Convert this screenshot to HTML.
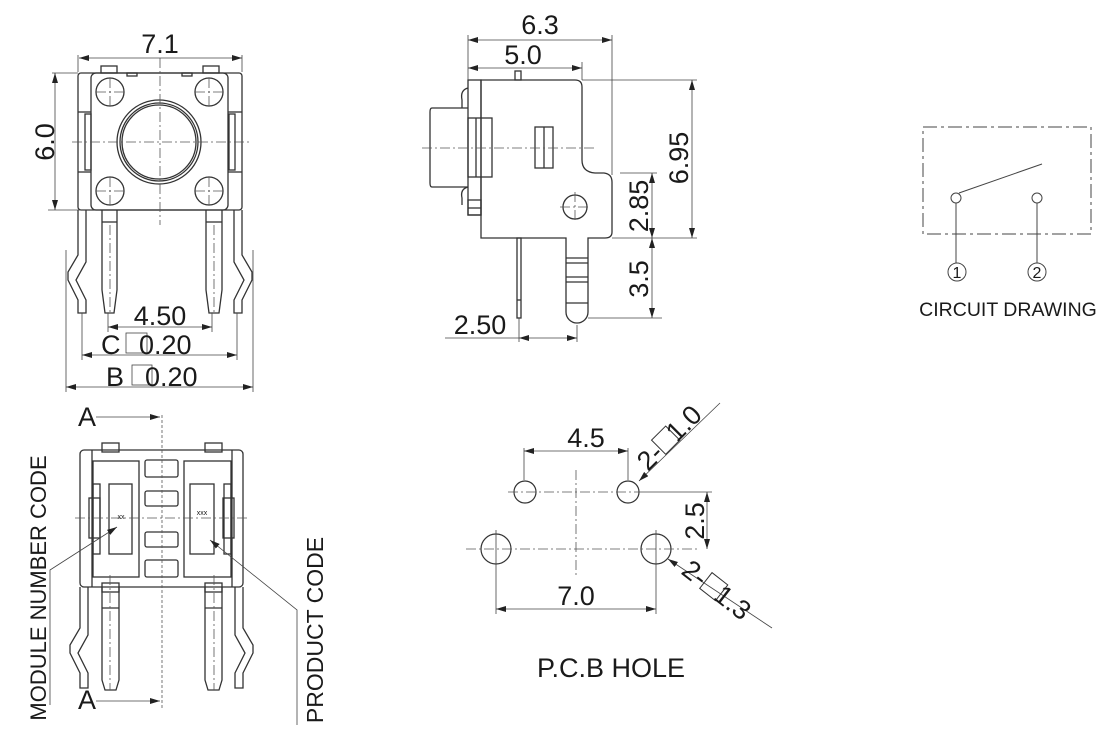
<!DOCTYPE html>
<html><head><meta charset="utf-8"><style>
html,body{margin:0;padding:0;background:#fff;}
svg{display:block;}
text{font-family:"Liberation Sans",Arial,sans-serif;fill:#1a1a1a;}
</style></head><body>
<svg width="1120" height="745" viewBox="0 0 1120 745" xmlns="http://www.w3.org/2000/svg">
<defs>
<marker id="ar" viewBox="0 0 10 6" refX="10" refY="3" markerWidth="10" markerHeight="6" markerUnits="userSpaceOnUse" orient="auto-start-reverse"><path d="M0,0 L10,3 L0,6 z" fill="#222"/></marker>
</defs>
<g fill="none" stroke="#333" stroke-width="1.3">
<rect x="78" y="73" width="164" height="137" rx="3"/>
<rect x="91" y="73" width="137" height="137" rx="5"/>
<rect x="101" y="66" width="16" height="7"/><rect x="203" y="66" width="16" height="7"/>
<rect x="127" y="73" width="10" height="3"/><rect x="182" y="73" width="10" height="3"/>
<line x1="78" y1="112" x2="91" y2="112"/><line x1="78" y1="172" x2="91" y2="172"/>
<line x1="228" y1="112" x2="242" y2="112"/><line x1="228" y1="172" x2="242" y2="172"/>
<rect x="85" y="114" width="6" height="56"/><rect x="229" y="114" width="6" height="56"/>
<circle cx="110" cy="92" r="14"/><circle cx="209" cy="92" r="14"/>
<circle cx="110" cy="191" r="14"/><circle cx="209" cy="191" r="14"/>
<circle cx="159" cy="142" r="42"/><circle cx="159" cy="142" r="39"/><circle cx="159" cy="142" r="37"/>
<path d="M102,210 V290 L105,313 H114 L117,290 V210"/>
<path d="M206,210 V290 L209,313 H219 L222,290 V210"/>
<line x1="102" y1="222" x2="117" y2="222"/><line x1="206" y1="222" x2="222" y2="222"/>
<path d="M78,210 V255 L68,272 V280 L78,300 V313 H86 V300 L76,280 L86,262 V210"/>
<path d="M242,210 V255 L252,272 V280 L242,300 V313 H234 V300 L244,280 L234,262 V210"/>
</g>
<g stroke="#555" stroke-width="0.8" fill="none" stroke-dasharray="10,3,2,3">
<line x1="160" y1="58" x2="160" y2="225"/><line x1="72" y1="142" x2="250" y2="142"/>
<line x1="110" y1="78" x2="110" y2="106"/><line x1="96" y1="92" x2="124" y2="92"/>
<line x1="209" y1="78" x2="209" y2="106"/><line x1="195" y1="92" x2="223" y2="92"/>
<line x1="110" y1="177" x2="110" y2="205"/><line x1="96" y1="191" x2="124" y2="191"/>
<line x1="209" y1="177" x2="209" y2="205"/><line x1="195" y1="191" x2="223" y2="191"/>
<line x1="110" y1="225" x2="110" y2="313"/><line x1="214" y1="225" x2="214" y2="313"/>
</g>
<g stroke="#444" stroke-width="0.8" fill="none">
<line x1="78" y1="72" x2="78" y2="55"/><line x1="242" y1="72" x2="242" y2="55"/>
<line x1="79" y1="58" x2="242" y2="58" marker-start="url(#ar)" marker-end="url(#ar)"/>
<line x1="52" y1="73" x2="78" y2="73"/><line x1="48" y1="210" x2="100" y2="210"/>
<line x1="55" y1="73" x2="55" y2="210" marker-start="url(#ar)" marker-end="url(#ar)"/>
<line x1="108" y1="313" x2="108" y2="332"/><line x1="212" y1="313" x2="212" y2="332"/>
<line x1="108" y1="327" x2="212" y2="327" marker-start="url(#ar)" marker-end="url(#ar)"/>
<line x1="82" y1="313" x2="82" y2="360"/><line x1="237" y1="313" x2="237" y2="360"/>
<line x1="82" y1="355" x2="237" y2="355" marker-start="url(#ar)" marker-end="url(#ar)"/>
<line x1="66" y1="250" x2="66" y2="392"/><line x1="253" y1="250" x2="253" y2="392"/>
<line x1="66" y1="387" x2="253" y2="387" marker-start="url(#ar)" marker-end="url(#ar)"/>
<rect x="126" y="333" width="21" height="20"/><rect x="132" y="365" width="20" height="20"/>
</g>
<text x="160" y="53" font-size="27" text-anchor="middle">7.1</text>
<text transform="translate(54,142) rotate(-90)" font-size="27" text-anchor="middle">6.0</text>
<text x="160" y="325" font-size="27" text-anchor="middle">4.50</text>
<text x="101" y="354" font-size="27">C</text><text x="139" y="354" font-size="27">0.20</text>
<text x="106" y="386" font-size="27">B</text><text x="145" y="386" font-size="27">0.20</text>

<g fill="none" stroke="#333" stroke-width="1.3">
<path d="M481,80 H575 Q582,80 582,87 V160 Q582,172 595,173 H604 Q612,174 612,182 V232 Q612,238 605,238 H588 V312 A11,11 0 0 1 566,312 V238 H481 Z"/>
<rect x="468" y="80" width="13" height="135"/>
<path d="M468,108 H432 Q430,108 430,112 V183 Q430,187 432,187 H468"/>
<rect x="468" y="118" width="24" height="59"/><line x1="476" y1="118" x2="476" y2="177"/>
<path d="M468,88 Q460,90 462,100 V108"/><path d="M468,187 Q460,189 462,198 V205"/>
<rect x="468" y="200" width="13" height="15"/><line x1="468" y1="208" x2="481" y2="208"/>
<rect x="515" y="71" width="6" height="9"/>
<rect x="535" y="127" width="18" height="41"/><line x1="544" y1="127" x2="544" y2="168"/>
<circle cx="575" cy="207" r="12"/>
<rect x="517" y="238" width="4" height="80"/>
<line x1="566" y1="258" x2="588" y2="258"/><line x1="566" y1="263" x2="588" y2="263"/>
<line x1="566" y1="277" x2="588" y2="277"/><line x1="566" y1="282" x2="588" y2="282"/>
<line x1="566" y1="303" x2="588" y2="303"/>
<line x1="517" y1="300" x2="521" y2="300"/>
</g>
<g stroke="#555" stroke-width="0.8" stroke-dasharray="10,3,2,3">
<line x1="422" y1="148" x2="595" y2="148"/>
<line x1="560" y1="207" x2="590" y2="207"/><line x1="575" y1="192" x2="575" y2="222"/>
</g>
<g stroke="#444" stroke-width="0.8" fill="none">
<line x1="468" y1="80" x2="468" y2="35"/><line x1="612" y1="175" x2="612" y2="35"/>
<line x1="468" y1="40" x2="612" y2="40" marker-start="url(#ar)" marker-end="url(#ar)"/>
<line x1="582" y1="80" x2="582" y2="62"/>
<line x1="468" y1="68" x2="582" y2="68" marker-start="url(#ar)" marker-end="url(#ar)"/>
<line x1="582" y1="80" x2="697" y2="80"/><line x1="612" y1="238" x2="697" y2="238"/>
<line x1="692" y1="80" x2="692" y2="238" marker-start="url(#ar)" marker-end="url(#ar)"/>
<line x1="620" y1="173" x2="657" y2="173"/><line x1="588" y1="318" x2="662" y2="318"/>
<line x1="652" y1="173" x2="652" y2="238" marker-start="url(#ar)" marker-end="url(#ar)"/>
<line x1="652" y1="238" x2="652" y2="318" marker-start="url(#ar)" marker-end="url(#ar)"/>
<line x1="519" y1="318" x2="519" y2="342"/><line x1="577" y1="325" x2="577" y2="342"/>
<line x1="445" y1="338" x2="519" y2="338"/>
<line x1="519" y1="338" x2="577" y2="338" marker-start="url(#ar)" marker-end="url(#ar)"/>
</g>
<text x="540" y="34" font-size="27" text-anchor="middle">6.3</text>
<text x="523" y="64" font-size="27" text-anchor="middle">5.0</text>
<text transform="translate(688,158) rotate(-90)" font-size="27" text-anchor="middle">6.95</text>
<text transform="translate(648,206) rotate(-90)" font-size="27" text-anchor="middle">2.85</text>
<text transform="translate(648,279) rotate(-90)" font-size="27" text-anchor="middle">3.5</text>
<text x="480" y="334" font-size="27" text-anchor="middle">2.50</text>

<g fill="none" stroke="#444" stroke-width="1">
<rect x="923" y="127" width="168" height="107" stroke-dasharray="14,4,3,4"/>
<circle cx="956" cy="198" r="5"/><circle cx="1037" cy="198" r="5"/>
<line x1="959" y1="193" x2="1042" y2="164"/>
<line x1="956" y1="203" x2="956" y2="263"/><line x1="1037" y1="203" x2="1037" y2="263"/>
<circle cx="957" cy="272" r="9"/><circle cx="1037" cy="272" r="9"/>
</g>
<text x="957" y="278" font-size="16" text-anchor="middle">1</text>
<text x="1037" y="278" font-size="16" text-anchor="middle">2</text>
<text x="1008" y="316" font-size="19.5" text-anchor="middle">CIRCUIT DRAWING</text>

<g fill="none" stroke="#333" stroke-width="1.3">
<rect x="80" y="450" width="163" height="137" rx="4"/>
<path d="M92,450 V587 M232,450 V587"/>
<rect x="102" y="443" width="17" height="9"/><rect x="205" y="443" width="17" height="9"/>
<rect x="102" y="583" width="17" height="9"/><rect x="205" y="583" width="17" height="9"/>
<rect x="93" y="461" width="46" height="116"/><rect x="184" y="461" width="47" height="116"/>
<rect x="109" y="484" width="23" height="70"/><rect x="190" y="484" width="24" height="70"/>
<rect x="145" y="460" width="33" height="17" rx="2"/><rect x="145" y="491" width="33" height="15" rx="2"/>
<rect x="145" y="532" width="33" height="15" rx="2"/><rect x="145" y="560" width="33" height="17" rx="2"/>
<rect x="89" y="498" width="11" height="40"/><rect x="223" y="498" width="11" height="40"/>
<rect x="93" y="484" width="7" height="70"/><rect x="224" y="484" width="7" height="70"/>
<path d="M102,587 V680 L105,690 H116 L119,680 V587"/>
<path d="M205,587 V680 L208,690 H219 L222,680 V587"/>
<line x1="102" y1="608" x2="119" y2="608"/><line x1="205" y1="608" x2="222" y2="608"/>
<path d="M80,587 V628 L70,645 V653 L80,673 V688 H88 V673 L78,653 L88,635 V587"/>
<path d="M243,587 V628 L253,645 V653 L243,673 V688 H235 V673 L245,653 L235,635 V587"/>
</g>
<g stroke="#555" stroke-width="0.8" stroke-dasharray="10,3,2,3" fill="none">
<line x1="75" y1="518" x2="250" y2="518"/>
<line x1="110" y1="575" x2="110" y2="690"/><line x1="214" y1="575" x2="214" y2="690"/>
</g>
<line x1="162" y1="415" x2="162" y2="710" stroke="#555" stroke-width="0.8" stroke-dasharray="3,2"/>
<g stroke="#444" stroke-width="0.8" fill="none">
<line x1="96" y1="417" x2="160" y2="417" marker-end="url(#ar)"/>
<line x1="96" y1="701" x2="160" y2="701" marker-end="url(#ar)"/>
<path d="M50,705 V570 L117,527" marker-end="url(#ar)"/>
<path d="M297,725 V610 L210,540" marker-end="url(#ar)"/>
</g>
<text x="121" y="519" font-size="7" text-anchor="middle">xx</text>
<text x="202" y="515" font-size="7" text-anchor="middle">xxx</text>
<text x="87" y="426" font-size="27" text-anchor="middle">A</text>
<text x="87" y="709" font-size="27" text-anchor="middle">A</text>
<text transform="translate(46,588) rotate(-90)" font-size="22" text-anchor="middle">MODULE NUMBER CODE</text>
<text transform="translate(323,630) rotate(-90)" font-size="23" text-anchor="middle">PRODUCT CODE</text>

<g fill="none" stroke="#333" stroke-width="1.2">
<circle cx="525" cy="492" r="11"/><circle cx="628" cy="492" r="11"/>
<circle cx="496" cy="549" r="15"/><circle cx="656" cy="549" r="15"/>
</g>
<g stroke="#555" stroke-width="0.8" stroke-dasharray="10,3,2,3" fill="none">
<line x1="508" y1="492" x2="640" y2="492"/><line x1="466" y1="549" x2="700" y2="549"/>
<line x1="576" y1="470" x2="576" y2="575"/>
</g>
<g stroke="#444" stroke-width="0.8" fill="none">
<line x1="524" y1="448" x2="524" y2="480"/><line x1="628" y1="448" x2="628" y2="480"/>
<line x1="524" y1="451" x2="628" y2="451" marker-start="url(#ar)" marker-end="url(#ar)"/>
<line x1="496" y1="530" x2="496" y2="614"/><line x1="656" y1="530" x2="656" y2="614"/>
<line x1="496" y1="609" x2="656" y2="609" marker-start="url(#ar)" marker-end="url(#ar)"/>
<line x1="640" y1="492" x2="712" y2="492"/>
<line x1="707" y1="492" x2="707" y2="549" marker-start="url(#ar)" marker-end="url(#ar)"/>
<line x1="720" y1="403" x2="639" y2="481" marker-end="url(#ar)"/>
<line x1="772" y1="628" x2="668" y2="559" marker-end="url(#ar)"/>
</g>
<text x="586" y="447" font-size="27" text-anchor="middle">4.5</text>
<text x="576" y="605" font-size="27" text-anchor="middle">7.0</text>
<text transform="translate(704,521) rotate(-90)" font-size="27" text-anchor="middle">2.5</text>
<g transform="translate(648,472) rotate(-45)">
<text x="0" y="0" font-size="27">2-</text>
<rect x="25" y="-20" width="20" height="20" fill="none" stroke="#333" stroke-width="1"/>
<text x="41" y="0" font-size="27">1.0</text>
</g>
<g transform="translate(680,573) rotate(38)">
<text x="0" y="0" font-size="27">2-</text>
<rect x="25" y="-20" width="20" height="20" fill="none" stroke="#333" stroke-width="1"/>
<text x="41" y="0" font-size="27">1.3</text>
</g>
<text x="611" y="677" font-size="27" text-anchor="middle">P.C.B HOLE</text>
</svg>
</body></html>
